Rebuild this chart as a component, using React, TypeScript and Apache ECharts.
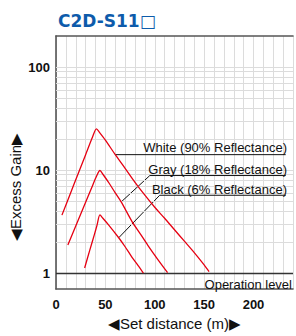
import React, { useEffect, useRef } from "react";
import * as echarts from "echarts";

const titleText = "C2D-S11□";
const xTickLabels = [0, 50, 100, 150, 200];
const yTickLabels = [1, 10, 100];
const yMinorGrid = [2, 3, 4, 5, 6, 7, 8, 9, 10, 20, 30, 40, 50, 60, 70, 80, 90, 100];
const operationLevel = 1;

const whiteDist = [6, 14, 22, 30, 37, 41, 44, 50, 60, 70, 80, 90, 100, 110, 120, 130, 140, 150, 155];
const whiteGain = [3.65, 5.73, 9.0, 14.1, 20.9, 25.1, 23.2, 19.5, 14.1, 10.4, 7.6, 5.7, 4.35, 3.4, 2.63, 2.04, 1.58, 1.2, 1.03];

const grayDist = [12, 20, 28, 36, 41, 44.5, 47.5, 54, 60, 66, 77, 85, 93, 103, 113];
const grayGain = [1.87, 2.86, 4.38, 6.7, 8.7, 9.9, 9.1, 7.4, 6.0, 4.9, 3.16, 2.43, 1.86, 1.36, 1.01];

const blackDist = [29, 34, 39, 41.5, 44.5, 47.5, 53, 63.5, 70, 77, 83, 88.5];
const blackGain = [1.12, 1.64, 2.39, 2.9, 3.67, 3.4, 2.95, 2.2, 1.8, 1.42, 1.19, 1.0];

const whiteLeader = [[60, 14.1], [232.6, 14.1]];
const grayLeader = [[66, 4.9], [95, 8.84], [232.6, 8.84]];
const blackLeader = [[63.5, 2.2], [105, 5.69], [232.6, 5.69]];

const labels = ["White (90% Reflectance)", "Gray (18% Reflectance)", "Black (6% Reflectance)"];

const zip = (a: number[], b: number[]) => a.map((v, i) => [v, b[i]]);

export default function App() {
  const ref = useRef<HTMLDivElement>(null);
  useEffect(() => {
    document.body.style.margin = "0";
    const chart = echarts.init(ref.current!, null, { renderer: "svg" });
    const red = "#e60012";
    const gridColor = "#dcdcdc";
    const axisColor = "#555";
    const labelFont = "Liberation Sans, Arial, sans-serif";
    const curve = (name: string, d: number[][]) => ({
      name,
      type: "line",
      data: d,
      smooth: 0.3,
      symbol: "none",
      lineStyle: { color: red, width: 1.3 },
      z: 5,
      silent: true,
    });
    const leader = (d: number[][]) => ({
      type: "line",
      data: d,
      symbol: "none",
      lineStyle: { color: "#111", width: 1 },
      z: 4,
      silent: true,
    });
    chart.setOption({
      animation: false,
      title: {
        text: titleText,
        left: 53,
        top: 7,
        textStyle: { color: "#0d5bab", fontSize: 17, fontWeight: "bold", fontFamily: "DejaVu Sans, sans-serif" },
      },
      grid: { left: 56, top: 36, width: 241.5, height: 256 },
      xAxis: [
        {
          type: "value",
          min: 0,
          max: 240,
          interval: 10,
          axisLine: { show: true, onZero: false, lineStyle: { color: axisColor, width: 1.6 } },
          axisTick: { show: false },
          splitLine: { show: true, lineStyle: { color: gridColor, width: 1 } },
          axisLabel: {
            interval: 0,
            margin: 9,
            color: "#111",
            fontSize: 13,
            fontWeight: "bold",
            fontFamily: labelFont,
            formatter: (v: number) => (xTickLabels.includes(v) ? String(v) : ""),
          },
          name: "◀Set distance (m)▶",
          nameLocation: "middle",
          nameGap: 27,
          nameTextStyle: { color: "#111", fontSize: 15, fontFamily: labelFont },
        },
        {
          type: "value",
          position: "top",
          min: 0,
          max: 240,
          axisLine: { show: true, onZero: false, lineStyle: { color: axisColor, width: 1.6 } },
          axisTick: { show: false },
          axisLabel: { show: false },
          splitLine: { show: false },
        },
      ],
      yAxis: {
        type: "log",
        logBase: 10,
        min: 0.7,
        max: 200,
        axisLine: { show: true, onZero: false, lineStyle: { color: axisColor, width: 1.6 } },
        axisTick: { show: false },
        splitLine: { show: false },
        axisLabel: {
          margin: 6,
          color: "#111",
          fontSize: 13,
          fontWeight: "bold",
          fontFamily: labelFont,
          showMinLabel: false,
          showMaxLabel: false,
          formatter: (v: number) => {
            const r = yTickLabels.find((t) => Math.abs(t - v) < 1e-6 * t);
            return r !== undefined ? String(r) : "";
          },
        },
      },
      graphic: [
        {
          type: "text",
          x: 15,
          y: 187,
          rotation: Math.PI / 2,
          style: {
            text: "◀Excess Gain▶",
            fill: "#111",
            fontSize: 15,
            fontFamily: labelFont,
            align: "center",
            verticalAlign: "middle",
          },
        },
        ...[147, 169.5, 189.5].map((y, i) => ({
          type: "text",
          x: 287,
          y,
          style: {
            text: labels[i],
            fill: "#111",
            fontSize: 13,
            fontFamily: labelFont,
            align: "right",
            verticalAlign: "middle",
          },
          z: 10,
        })),
        {
          type: "text",
          x: 292,
          y: 284.5,
          style: {
            text: "Operation level",
            fill: "#111",
            fontSize: 13,
            fontFamily: labelFont,
            align: "right",
            verticalAlign: "middle",
          },
          z: 10,
        },
      ],
      series: [
        {
          type: "line",
          data: [],
          silent: true,
          z: 1,
          markLine: {
            silent: true,
            symbol: ["none", "none"],
            label: { show: false },
            animation: false,
            lineStyle: { color: gridColor, width: 1, type: "solid" },
            data: yMinorGrid.map((v) => ({ yAxis: v })),
          },
        },
        {
          type: "line",
          data: [],
          silent: true,
          z: 3,
          markLine: {
            silent: true,
            symbol: ["none", "none"],
            label: { show: false },
            animation: false,
            lineStyle: { color: "#333", width: 1.3, type: "solid" },
            data: [{ yAxis: operationLevel }],
          },
        },
        leader(whiteLeader),
        leader(grayLeader),
        leader(blackLeader),
        curve("White", zip(whiteDist, whiteGain)),
        curve("Gray", zip(grayDist, grayGain)),
        curve("Black", zip(blackDist, blackGain)),
      ],
    });
    return () => chart.dispose();
  }, []);
  return <div ref={ref} style={{ width: 296, height: 336 }} />;
}
